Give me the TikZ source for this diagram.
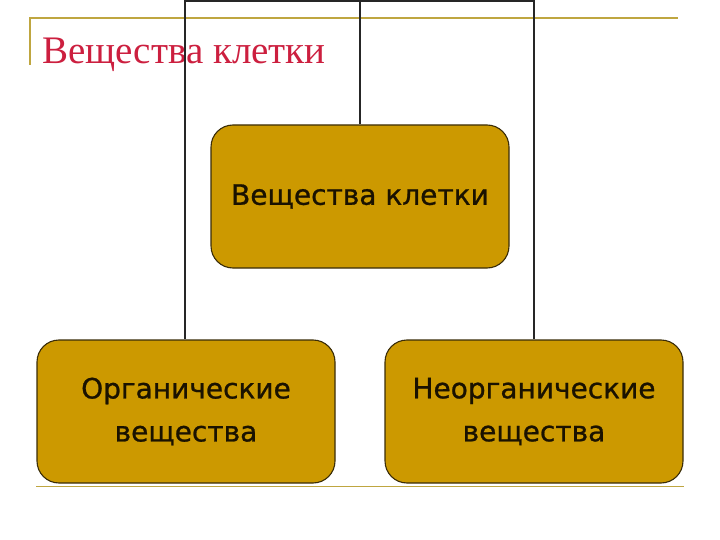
\documentclass[tikz,border=0pt]{standalone}
\usepackage{fontspec}
\setmainfont{Liberation Serif}
\newfontfamily\boxfont[FakeBold=0.9]{DejaVu Sans}
\definecolor{gold}{HTML}{CC9900}
\definecolor{rule}{HTML}{BFA640}
\definecolor{titlered}{HTML}{CC1F3F}
\definecolor{edge}{HTML}{3A2C08}
\definecolor{boxtext}{HTML}{1A1200}
\begin{document}
\begin{tikzpicture}[x=1pt,y=-1pt,
  box/.style={draw=edge, line width=1.1pt, fill=gold, rounded corners=22pt,
    minimum width=298pt, minimum height=143pt, align=center,
    font=\boxfont\fontsize{28}{43}\selectfont, text=boxtext, inner sep=0pt},
  conn/.style={draw=black!85, line width=1.4pt},
  goldrule/.style={draw=rule, line width=1.5pt}]
\useasboundingbox (0,0) rectangle (720,540);
% decoration rules
\draw[goldrule] (30,65) -- (30,18) -- (678,18);
\draw[goldrule] (36,486.5) -- (684,486.5);
% title
\node[anchor=base west, text=titlered, font=\fontsize{39}{44}\selectfont, inner sep=0pt] (title) at (42,64) {Вещества клетки};
% boxes
\node[box] (top) at (360,196.5) {Вещества клетки};
\node[box] (left) at (186,411.5) {Органические\\вещества};
\node[box] (right) at (534,411.5) {Неорганические\\вещества};
% connectors
\coordinate (hub) at (360,1);
\draw[conn] (top.north) -- (hub);
\draw[conn] (hub) -- (185,1) -- (left.north -| 185,0);
\draw[conn] (hub) -- (534,1) -- (right.north -| 534,0);
\end{tikzpicture}
\end{document}
